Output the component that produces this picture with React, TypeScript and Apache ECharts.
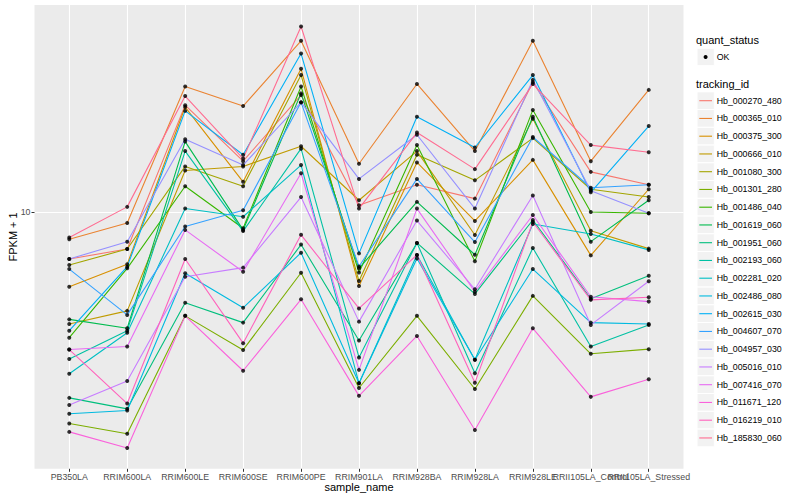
import React, { useEffect, useRef } from "react";
import * as echarts from "echarts";

const categories = [
  "PB350LA", "RRIM600LA", "RRIM600LE", "RRIM600SE", "RRIM600PE", "RRIM901LA",
  "RRIM928BA", "RRIM928LA", "RRIM928LE", "RRII105LA_Control", "RRII105LA_Stressed",
];

const trackingIds = [
  "Hb_000270_480", "Hb_000365_010", "Hb_000375_300", "Hb_000666_010", "Hb_001080_300",
  "Hb_001301_280", "Hb_001486_040", "Hb_001619_060", "Hb_001951_060", "Hb_002193_060",
  "Hb_002281_020", "Hb_002486_080", "Hb_002615_030", "Hb_004607_070", "Hb_004957_030",
  "Hb_005016_010", "Hb_007416_070", "Hb_011671_120", "Hb_016219_010", "Hb_185830_060",
];

const seriesColors = [
  "#F8766D", "#EA8331", "#D89000", "#C09B00", "#A3A500", "#7CAE00", "#39B600",
  "#00BB4E", "#00BF7D", "#00C1A3", "#00BFC4", "#00BAE0", "#00B0F6", "#35A2FF",
  "#9590FF", "#C77CFF", "#E76BF3", "#FA62DB", "#FF62BC", "#FF6C91",
];

// FPKM + 1 per sample (order of categories)
const hb000270_480 = [7.63, 8.08, 18.5, 13.4, 19.6, 10.4, 11.7, 10.8, 21.1, 12.6, 11.7];
const hb000365_010 = [8.55, 9.39, 20.6, 18.4, 26.8, 13.2, 20.9, 14.2, 26.8, 13.4, 20.2];
const hb000375_300 = [6.5, 7.4, 18.3, 11.9, 22.8, 6.53, 13.3, 9.5, 13.5, 7.79, 11.4];
const hb000666_010 = [5.25, 5.66, 12.7, 13.0, 14.6, 10.7, 14.2, 8.76, 17.1, 8.98, 8.1];
const hb001080_300 = [7.37, 8.08, 13.0, 11.6, 22.0, 6.72, 13.9, 12.0, 15.3, 11.4, 10.9];
const hb001301_280 = [2.96, 2.79, 5.5, 4.52, 7.05, 3.63, 5.5, 3.61, 6.17, 4.42, 4.54];
const hb001486_040 = [4.85, 7.23, 11.6, 9.11, 20.6, 7.06, 14.7, 7.53, 18.0, 10.0, 9.93];
const hb001619_060 = [5.39, 5.12, 15.0, 9.02, 19.8, 7.23, 10.6, 7.82, 17.3, 8.43, 10.7];
const hb001951_060 = [3.43, 3.22, 5.93, 5.29, 8.29, 4.77, 8.37, 6.24, 9.55, 6.07, 6.93];
const hb002193_060 = [4.29, 5.05, 14.2, 8.96, 14.4, 4.33, 8.37, 3.95, 8.13, 4.61, 5.22];
const hb002281_020 = [3.94, 4.99, 10.2, 9.73, 13.1, 3.73, 7.81, 4.27, 9.33, 8.81, 8.04];
const hb002486_080 = [3.13, 3.19, 7.03, 5.76, 7.91, 3.73, 7.65, 4.27, 7.2, 5.29, 5.25];
const hb002615_030 = [5.05, 7.3, 17.9, 13.9, 24.9, 7.88, 17.3, 14.5, 22.0, 11.2, 16.4];
const hb004607_070 = [7.2, 5.53, 9.2, 10.1, 18.8, 7.31, 12.1, 8.41, 15.4, 11.5, 11.7];
const hb004957_030 = [7.63, 8.43, 15.2, 13.1, 18.8, 12.1, 15.6, 10.2, 21.4, 11.3, 9.93];
const hb005016_010 = [3.29, 3.78, 6.89, 7.26, 10.9, 5.32, 9.52, 6.41, 11.0, 5.22, 6.71];
const hb007416_070 = [4.53, 4.61, 9.02, 7.09, 12.5, 4.03, 10.2, 6.32, 9.83, 6.14, 5.97];
const hb011671_120 = [2.82, 2.57, 5.5, 4.01, 6.05, 3.47, 4.9, 2.85, 5.12, 3.45, 3.82];
const hb016219_010 = [4.53, 3.32, 7.63, 4.7, 8.77, 5.74, 7.81, 3.74, 9.44, 6.03, 6.12];
const hb185830_060 = [8.64, 10.3, 19.5, 13.6, 29.1, 10.2, 15.8, 12.8, 20.9, 14.7, 14.1];

const seriesValues = [
  hb000270_480, hb000365_010, hb000375_300, hb000666_010, hb001080_300,
  hb001301_280, hb001486_040, hb001619_060, hb001951_060, hb002193_060,
  hb002281_020, hb002486_080, hb002615_030, hb004607_070, hb004957_030,
  hb005016_010, hb007416_070, hb011671_120, hb016219_010, hb185830_060,
];

const yTickValues = [10];
const quantStatus = ["OK"];

export default function App() {
  const ref = useRef<HTMLDivElement>(null);

  useEffect(() => {
    if (!ref.current) return;
    const chart = echarts.init(ref.current, null, { renderer: "svg" });
    const font = "'Liberation Sans', Arial, Helvetica, sans-serif";
    const catIdx = categories.map((_, i) => i);

    const panelLeft = 34.5;
    const panelRight = 116.5;
    const panelTop = 5;
    const panelBottom = 31.2;
    const band = (800 - panelLeft - panelRight) / (categories.length + 0.2);
    const yMin = 2.28;
    const yMax = 32.93;

    const lineSeries = seriesValues.map((vals, k) => ({
      name: trackingIds[k],
      type: "line",
      xAxisIndex: 0,
      yAxisIndex: 0,
      data: vals.map((v, i) => [i, v]),
      showSymbol: false,
      symbol: "none",
      silent: true,
      lineStyle: { color: seriesColors[k], width: 1.1 },
      itemStyle: { color: seriesColors[k] },
      emphasis: { disabled: true },
      z: 2,
    }));

    const points = seriesValues.flatMap((vals) => vals.map((v, i) => [i, v]));

    const legendEls: any[] = [];
    legendEls.push({
      type: "text", left: 696, top: 34,
      style: { text: "quant_status", font: `11px ${font}`, fill: "#000" },
    });
    legendEls.push({
      type: "rect", shape: { x: 697, y: 48.3, width: 17.3, height: 17.4 },
      style: { fill: "#F2F2F2", stroke: "#FFFFFF", lineWidth: 1 },
    });
    legendEls.push({
      type: "circle", shape: { cx: 705.6, cy: 57, r: 2 },
      style: { fill: "#000" },
    });
    legendEls.push({
      type: "text", x: 716.7, y: 57,
      style: { text: quantStatus[0], font: `8.8px ${font}`, fill: "#000", verticalAlign: "middle" },
    });
    legendEls.push({
      type: "text", left: 696, top: 78,
      style: { text: "tracking_id", font: `11px ${font}`, fill: "#000" },
    });
    trackingIds.forEach((id, i) => {
      const cy = 100.7 + 17.75 * i;
      legendEls.push({
        type: "rect", shape: { x: 697, y: cy - 8.875, width: 17.3, height: 17.75 },
        style: { fill: "#F2F2F2", stroke: "#FFFFFF", lineWidth: 1 },
      });
      legendEls.push({
        type: "line", shape: { x1: 699.3, y1: cy, x2: 712, y2: cy },
        style: { stroke: seriesColors[i], lineWidth: 1.1 },
      });
      legendEls.push({
        type: "text", x: 716.7, y: cy,
        style: { text: id, font: `8.8px ${font}`, fill: "#000", verticalAlign: "middle" },
      });
    });

    chart.setOption({
      animation: false,
      backgroundColor: "#FFFFFF",
      textStyle: { fontFamily: font },
      grid: [
        {
          left: panelLeft, right: panelRight, top: panelTop, bottom: panelBottom,
          show: true, backgroundColor: "#EBEBEB", borderWidth: 0,
          containLabel: false, outerBoundsMode: "none",
        },
        {
          left: panelLeft + 0.1 * band, right: panelRight + 0.1 * band,
          top: panelTop, bottom: panelBottom,
          show: false, containLabel: false, outerBoundsMode: "none",
        },
      ],
      xAxis: [
        {
          gridIndex: 0,
          type: "value",
          min: -0.6,
          max: categories.length - 1 + 0.6,
          name: "sample_name",
          nameLocation: "middle",
          nameGap: 13,
          nameMoveOverlap: false,
          nameTextStyle: { fontSize: 11, color: "#000", fontFamily: font, verticalAlign: "top" },
          axisLine: { show: false, onZero: false },
          axisTick: { show: true, customValues: catIdx, length: 3, lineStyle: { color: "#333333", width: 1 } },
          axisLabel: { show: false, customValues: catIdx },
          splitLine: { show: true, lineStyle: { color: "#FFFFFF", width: 1.1 } },
        },
        {
          gridIndex: 1,
          type: "category",
          data: categories,
          boundaryGap: true,
          axisLine: { show: false, onZero: false },
          axisTick: { show: false },
          axisLabel: {
            interval: 0,
            fontSize: 8.8, color: "#4D4D4D", margin: 4, fontFamily: font,
            hideOverlap: false,
          },
          splitLine: { show: false },
        },
      ],
      yAxis: [
        {
          gridIndex: 0,
          type: "log",
          logBase: 10,
          min: yMin,
          max: yMax,
          name: "FPKM + 1",
          nameLocation: "middle",
          nameGap: 16.5,
          nameMoveOverlap: false,
          nameTextStyle: { fontSize: 11, color: "#000", fontFamily: font },
          axisLine: { show: false, onZero: false },
          axisTick: { show: true, customValues: yTickValues, length: 3, lineStyle: { color: "#333333", width: 1 } },
          axisLabel: {
            customValues: yTickValues,
            fontSize: 8.8, color: "#4D4D4D", margin: 4, fontFamily: font,
          },
          splitLine: { show: true, lineStyle: { color: "#FFFFFF", width: 1.1 } },
        },
        {
          gridIndex: 1,
          type: "log",
          logBase: 10,
          min: yMin,
          max: yMax,
          show: false,
          axisLine: { show: false, onZero: false },
          axisTick: { show: false },
          axisLabel: { show: false },
          splitLine: { show: false },
        },
      ],
      series: [
        ...lineSeries,
        {
          name: quantStatus[0],
          type: "scatter",
          xAxisIndex: 0,
          yAxisIndex: 0,
          data: points,
          symbol: "circle",
          symbolSize: 4,
          itemStyle: { color: "#000000" },
          silent: true,
          z: 5,
        },
      ],
      graphic: legendEls,
    });

    return () => chart.dispose();
  }, []);

  return (
    <div
      ref={ref}
      style={{ position: "fixed", left: 0, top: 0, width: 800, height: 500 }}
    />
  );
}
